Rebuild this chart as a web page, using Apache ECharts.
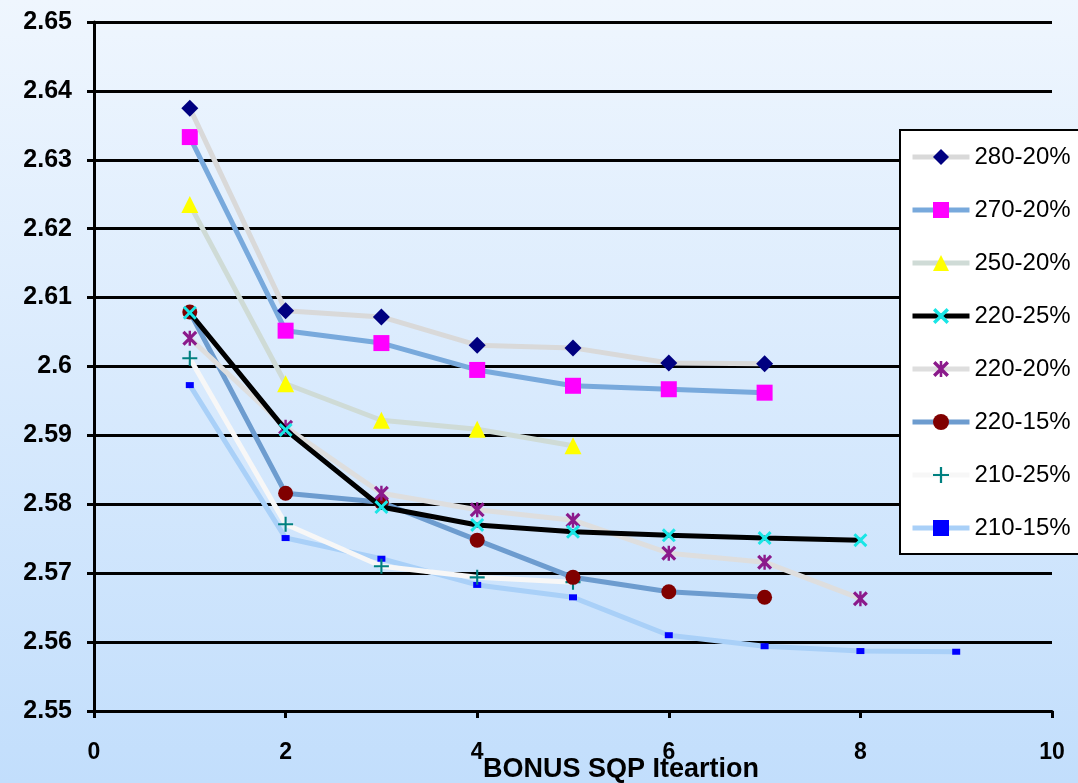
<!DOCTYPE html>
<html>
<head>
<meta charset="utf-8">
<script src="https://cdn.jsdelivr.net/npm/echarts@6/dist/echarts.min.js"></script>
<style>
  html, body { margin: 0; padding: 0; }
  #chart { width: 1078px; height: 783px; }
</style>
</head>
<body>
<div id="chart"></div>
<script>
// iteration numbers on x
const iterations = [1, 2, 3, 4, 5, 6, 7, 8, 9]

// objective values
const s280_20 = [2.6375, 2.6081, 2.6072, 2.6031, 2.6027, 2.6005, 2.6004]
const s270_20 = [2.6333, 2.6052, 2.6034, 2.5995, 2.5972, 2.5967, 2.5962]
const s250_20 = [2.6235, 2.5975, 2.5922, 2.5909, 2.5885]
const s220_25 = [2.6078, 2.5908, 2.5796, 2.5770, 2.5760, 2.5755, 2.5751, 2.5748]
const s220_20 = [2.6041, 2.5912, 2.5816, 2.5792, 2.5777, 2.5729, 2.5716, 2.5663]
const s220_15 = [2.6079, 2.5816, 2.5803, 2.5748, 2.5694, 2.5673, 2.5665]
const s210_25 = [2.6012, 2.5771, 2.5710, 2.5694, 2.5687]
const s210_15 = [2.5973, 2.5751, 2.5721, 2.5683, 2.5665, 2.5610, 2.5594, 2.5587, 2.5586]

const seriesNames = ['280-20%', '270-20%', '250-20%', '220-25%', '220-20%', '220-15%', '210-25%', '210-15%']

// marker shapes
const xCross = 'path://M0,1.5L1.5,0L5,3.5L8.5,0L10,1.5L6.5,5L10,8.5L8.5,10L5,6.5L1.5,10L0,8.5L3.5,5Z'
const star = xCross + 'M4.2,0H5.8V10H4.2Z'
const plus = 'path://M4.3,0H5.7V4.3H10V5.7H5.7V10H4.3V5.7H0V4.3H4.3Z'

const styles = [
  { line: '#d9d9d9', mark: '#000080', symbol: 'diamond', size: 17 },
  { line: '#78a9dc', mark: '#ff00ff', symbol: 'rect', size: 16 },
  { line: '#cfdbd6', mark: '#ffff00', symbol: 'triangle', size: 17 },
  { line: '#000000', mark: '#19e6e6', symbol: xCross, size: 14 },
  { line: '#dedede', mark: '#8b1a8b', symbol: star, size: 15 },
  { line: '#6d9ccf', mark: '#800000', symbol: 'circle', size: 15 },
  { line: '#f7f7f7', mark: '#008080', symbol: plus, size: 15 },
  { line: '#a9d0f8', mark: '#0000ff', symbol: 'rect', size: [8, 6] }
]

const values = [s280_20, s270_20, s250_20, s220_25, s220_20, s220_15, s210_25, s210_15]

const font = '"Liberation Sans", Arial, sans-serif'

const chart = echarts.init(document.getElementById('chart'))

chart.setOption({
  animation: false,
  backgroundColor: {
    type: 'linear', x: 0, y: 0, x2: 0, y2: 1,
    colorStops: [
      { offset: 0, color: '#eff6fe' },
      { offset: 1, color: '#c2defc' }
    ]
  },
  title: {
    text: 'BONUS SQP Iteartion',
    left: 483,
    top: 756,
    padding: 0,
    textStyle: { fontFamily: font, fontSize: 27, fontWeight: 'bold', color: '#000' }
  },
  grid: { left: 94, right: 26, top: 22, bottom: 72, containLabel: false },
  legend: {
    orient: 'vertical',
    left: 900,
    top: 130,
    padding: [15, 40, 14, 10],
    itemWidth: 57,
    itemHeight: 20,
    itemGap: 29,
    backgroundColor: '#fff',
    borderColor: '#000',
    borderWidth: 2,
    borderRadius: 0,
    lineStyle: { width: 5 },
    textStyle: { fontFamily: font, fontSize: 24, color: '#000' },
    data: seriesNames
  },
  xAxis: {
    type: 'value',
    min: 0,
    max: 10,
    interval: 2,
    axisLine: { lineStyle: { color: '#000', width: 3 } },
    axisTick: { show: true, length: 7, lineStyle: { color: '#000', width: 3 } },
    axisLabel: { margin: 30, color: '#000', fontFamily: font, fontSize: 23, fontWeight: 'bold' },
    splitLine: { show: false }
  },
  yAxis: {
    type: 'value',
    min: 2.55,
    max: 2.65,
    interval: 0.01,
    axisLine: { show: true, lineStyle: { color: '#000', width: 3 } },
    axisTick: { show: true, length: 7, lineStyle: { color: '#000', width: 3 } },
    axisLabel: {
      margin: 22, color: '#000', fontFamily: font, fontSize: 25, fontWeight: 'bold',
      formatter: v => String(+v.toFixed(2))
    },
    splitLine: { lineStyle: { color: '#000', width: 3 } }
  },
  series: values.map((vals, i) => ({
    name: seriesNames[i],
    type: 'line',
    data: vals.map((v, k) => [iterations[k], v]),
    symbol: styles[i].symbol,
    symbolSize: styles[i].size,
    showAllSymbol: true,
    lineStyle: { color: styles[i].line, width: 5 },
    itemStyle: { color: styles[i].mark, borderWidth: 0 },
    z: 2 + (values.length - i)
  }))
})
</script>
</body>
</html>
